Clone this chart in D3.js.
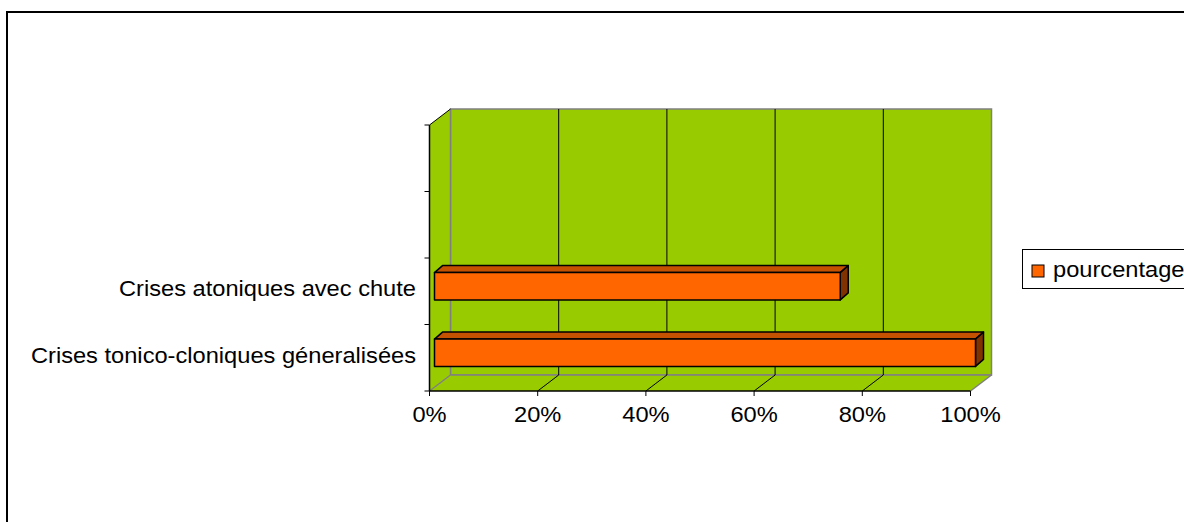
<!DOCTYPE html>
<html>
<head>
<meta charset="utf-8">
<script src="https://cdn.jsdelivr.net/npm/d3@7"></script>
<style>
  html, body { margin: 0; padding: 0; background: #fff; }
  svg { display: block; }
  text { font-family: Arial, "Liberation Sans", sans-serif; fill: #000; }
</style>
</head>
<body>
<svg id="chart" width="1184" height="522"></svg>
<script>
// ---- data ----
const categories = ["Crises tonico-cloniques géneralisées", "Crises atoniques avec chute", "", ""];
const values = [100, 75, null, null];
const seriesName = "pourcentage";
const xTicks = [0, 20, 40, 60, 80, 100];
const xTickLabels = ["0%", "20%", "40%", "60%", "80%", "100%"];

// ---- layout ----
const svg = d3.select("#chart");
const X0 = 429.5, X1 = 970.5, YTOP = 125, YBOT = 391;
const DX = 21, DY = -16;          // wall depth
const BF = [5, -5];               // bar front-face offset
const BD = [8, -7];               // bar depth
const FS = 21.5, SX = 1.1;        // font size, horizontal stretch
const green = "#99CC00", gray = "#808080";

const idx = d3.range(categories.length);
const x = d3.scaleLinear().domain([0, 100]).range([X0, X1]);
const y = d3.scaleBand().domain(idx).range([YBOT, YTOP]).padding(0);
const barFrac = 0.41;

// outer border
svg.append("rect").attr("x", 7).attr("y", 12).attr("width", 1200).attr("height", 540)
  .attr("fill", "none").attr("stroke", "#000").attr("stroke-width", 2);

const poly = pts => pts.map(p => p.join(",")).join(" ");

// back wall
svg.append("polygon").attr("points", poly([
  [X0 + DX, YTOP + DY], [X1 + DX, YTOP + DY], [X1 + DX, YBOT + DY], [X0 + DX, YBOT + DY]
])).attr("fill", green).attr("stroke", gray).attr("stroke-width", 1.5);
// left wall
svg.append("polygon").attr("points", poly([
  [X0, YTOP], [X0 + DX, YTOP + DY], [X0 + DX, YBOT + DY], [X0, YBOT]
])).attr("fill", green).attr("stroke", "none");
// floor
svg.append("polygon").attr("points", poly([
  [X0, YBOT], [X1, YBOT], [X1 + DX, YBOT + DY], [X0 + DX, YBOT + DY]
])).attr("fill", green).attr("stroke", "none");

// edges
const line = (a, b, c, w) => svg.append("line").attr("x1", a[0]).attr("y1", a[1])
  .attr("x2", b[0]).attr("y2", b[1]).attr("stroke", c).attr("stroke-width", w || 1);
line([X0 + DX, YTOP + DY], [X0 + DX, YBOT + DY], gray, 1.5);
line([X0 + DX, YBOT + DY], [X1 + DX, YBOT + DY], gray, 1.5);
line([X0, YBOT], [X0 + DX, YBOT + DY], gray, 1.5);
line([X1, YBOT], [X1 + DX, YBOT + DY], gray, 1.5);
line([X0, YTOP], [X0 + DX, YTOP + DY], "#000", 1);

// gridlines on back wall and floor
xTicks.filter(v => v > 0 && v < 100).forEach(v => {
  line([x(v) + DX, YTOP + DY], [x(v) + DX, YBOT + DY], "#000", 1);
  line([x(v), YBOT], [x(v) + DX, YBOT + DY], "#000", 1);
});

// axes
line([X0, YTOP], [X0, YBOT], "#000", 1.5);
line([X0, YBOT], [X1, YBOT], "#000", 1.5);
const bounds = idx.map(i => y(i) + y.bandwidth()).concat([y(idx[idx.length - 1])]);
bounds.forEach(b => line([X0 - 5, b], [X0, b], "#000", 1));
xTicks.forEach(v => line([x(v), YBOT], [x(v), YBOT + 5], "#000", 1));

// tick labels
xTicks.forEach((v, i) => {
  svg.append("text")
    .attr("transform", `translate(${x(v)},422) scale(${SX},1)`)
    .attr("text-anchor", "middle").attr("font-size", FS)
    .text(xTickLabels[i]);
});
idx.forEach(i => {
  const c = categories[i];
  if (!c) return;
  const cy = y(i) + y.bandwidth() / 2;
  svg.append("text")
    .attr("transform", `translate(416,${cy + 5}) scale(${SX},1)`)
    .attr("text-anchor", "end").attr("font-size", FS)
    .text(c);
});

// bars
idx.forEach(i => {
  const v = values[i];
  if (v == null) return;
  const cy = y(i) + y.bandwidth() / 2 + BF[1];
  const h = y.bandwidth() * barFrac;
  const xl = x(0) + BF[0], xr = x(v) + BF[0];
  const yt = cy - h / 2, yb = cy + h / 2;
  const g = svg.append("g").attr("stroke", "#000").attr("stroke-width", 1.5).attr("stroke-linejoin", "round");
  g.append("polygon").attr("points", poly([
    [xl, yt], [xl + BD[0], yt + BD[1]], [xr + BD[0], yt + BD[1]], [xr, yt]
  ])).attr("fill", "#C45200");
  g.append("polygon").attr("points", poly([
    [xr, yt], [xr + BD[0], yt + BD[1]], [xr + BD[0], yb + BD[1]], [xr, yb]
  ])).attr("fill", "#803300");
  g.append("rect").attr("x", xl).attr("y", yt).attr("width", xr - xl).attr("height", h)
    .attr("fill", "#FF6600");
});

// legend
svg.append("rect").attr("x", 1022.5).attr("y", 249.5).attr("width", 200).attr("height", 39)
  .attr("fill", "#fff").attr("stroke", "#000").attr("stroke-width", 1);
svg.append("rect").attr("x", 1032).attr("y", 265).attr("width", 12).attr("height", 12)
  .attr("fill", "#FF6600").attr("stroke", "#000").attr("stroke-width", 1);
svg.append("text")
  .attr("transform", `translate(1053,276.5) scale(${SX},1)`)
  .attr("font-size", FS).text(seriesName);
</script>
</body>
</html>
